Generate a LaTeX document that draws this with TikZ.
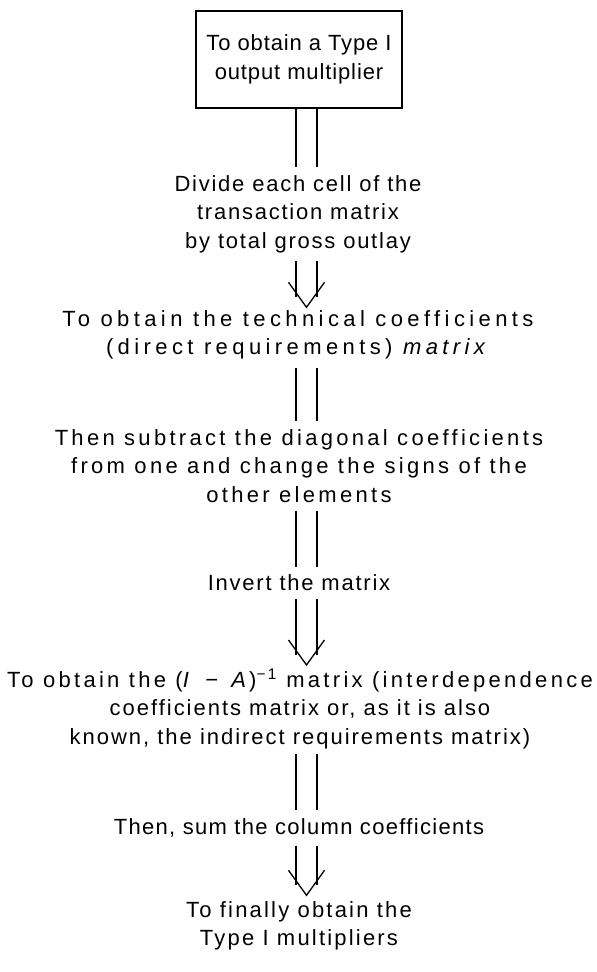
\documentclass[tikz,border=0pt]{standalone}
\usepackage{fontspec}
\setmainfont{Liberation Sans}
\usepackage{tikz}
\usetikzlibrary{positioning,calc}
\newcommand\spacedfont[1]{\fontsize{22}{28.5}\selectfont\addfontfeatures{LetterSpace=#1}}

\begin{document}
\begin{tikzpicture}[x=1pt,y=-1pt,
  stage/.style={align=center,inner sep=0pt,font=\spacedfont{#1}},
  stage/.default=9,
  frame/.style={draw,line width=1.3pt,minimum width=206pt,minimum height=97pt},
  rail/.style={line width=1.3pt},
  vee/.pic={\draw[rail] (-18,-25) -- (0,0) -- (18,-25);}]
\useasboundingbox (0,0) rectangle (597,972);
\node[stage=4,frame] (start) at (299,59.5) {To obtain a Type I\\ output multiplier};
\node[stage=8] (divide) at (298,214) {Divide each cell of the\\ transaction matrix\\ by total gross outlay};
\node[stage=20] (tech) at (298,335) {To obtain the technical coefficients\\ (direct requirements) \textit{matrix}};
\node[stage=15] (subtract) at (299,466) {Then subtract the diagonal coefficients\\ from one and change the signs of the\\ other elements};
\node[stage=8] (invert) at (299,583) {Invert the matrix};
\node[stage=9] (inverse) at (300,709) {{\addfontfeatures{LetterSpace=15}To obtain the (\textit{I}\, − \,\textit{A})\textsuperscript{−1} matrix (interdependence}\\ coefficients matrix or, as it is also\\ known, the indirect requirements matrix)};
\node[stage=6] (sum) at (299,828) {Then, sum the column coefficients};
\node[stage=10] (final) at (299,926) {To finally obtain the\\ Type I multipliers};
% plain twin rails
\foreach \from/\to/\gap in {start/divide/0,tech/subtract/8,subtract/invert/8,inverse/sum/5}
  \foreach \dx in {-3,18}
    \draw[rail] ([xshift=\dx pt,yshift=-\gap pt]\from.south -| start.south) -- ([xshift=\dx pt,yshift=8pt]start.south |- \to.north);
% twin rails ending in a vee
\foreach \from/\to/\gap in {divide/tech/3,invert/inverse/4,sum/final/6} {
  \coordinate (tip) at ([xshift=7.5pt,yshift=\gap pt]start.south |- \to.north);
  \pic at (tip) {vee};
  \foreach \dx in {-10.5,10.5}
    \draw[rail] ([xshift=\dx pt,yshift=-8pt]\from.south -| tip) -- ([xshift=\dx pt,yshift=10.4pt]tip);
}
\end{tikzpicture}
\end{document}
